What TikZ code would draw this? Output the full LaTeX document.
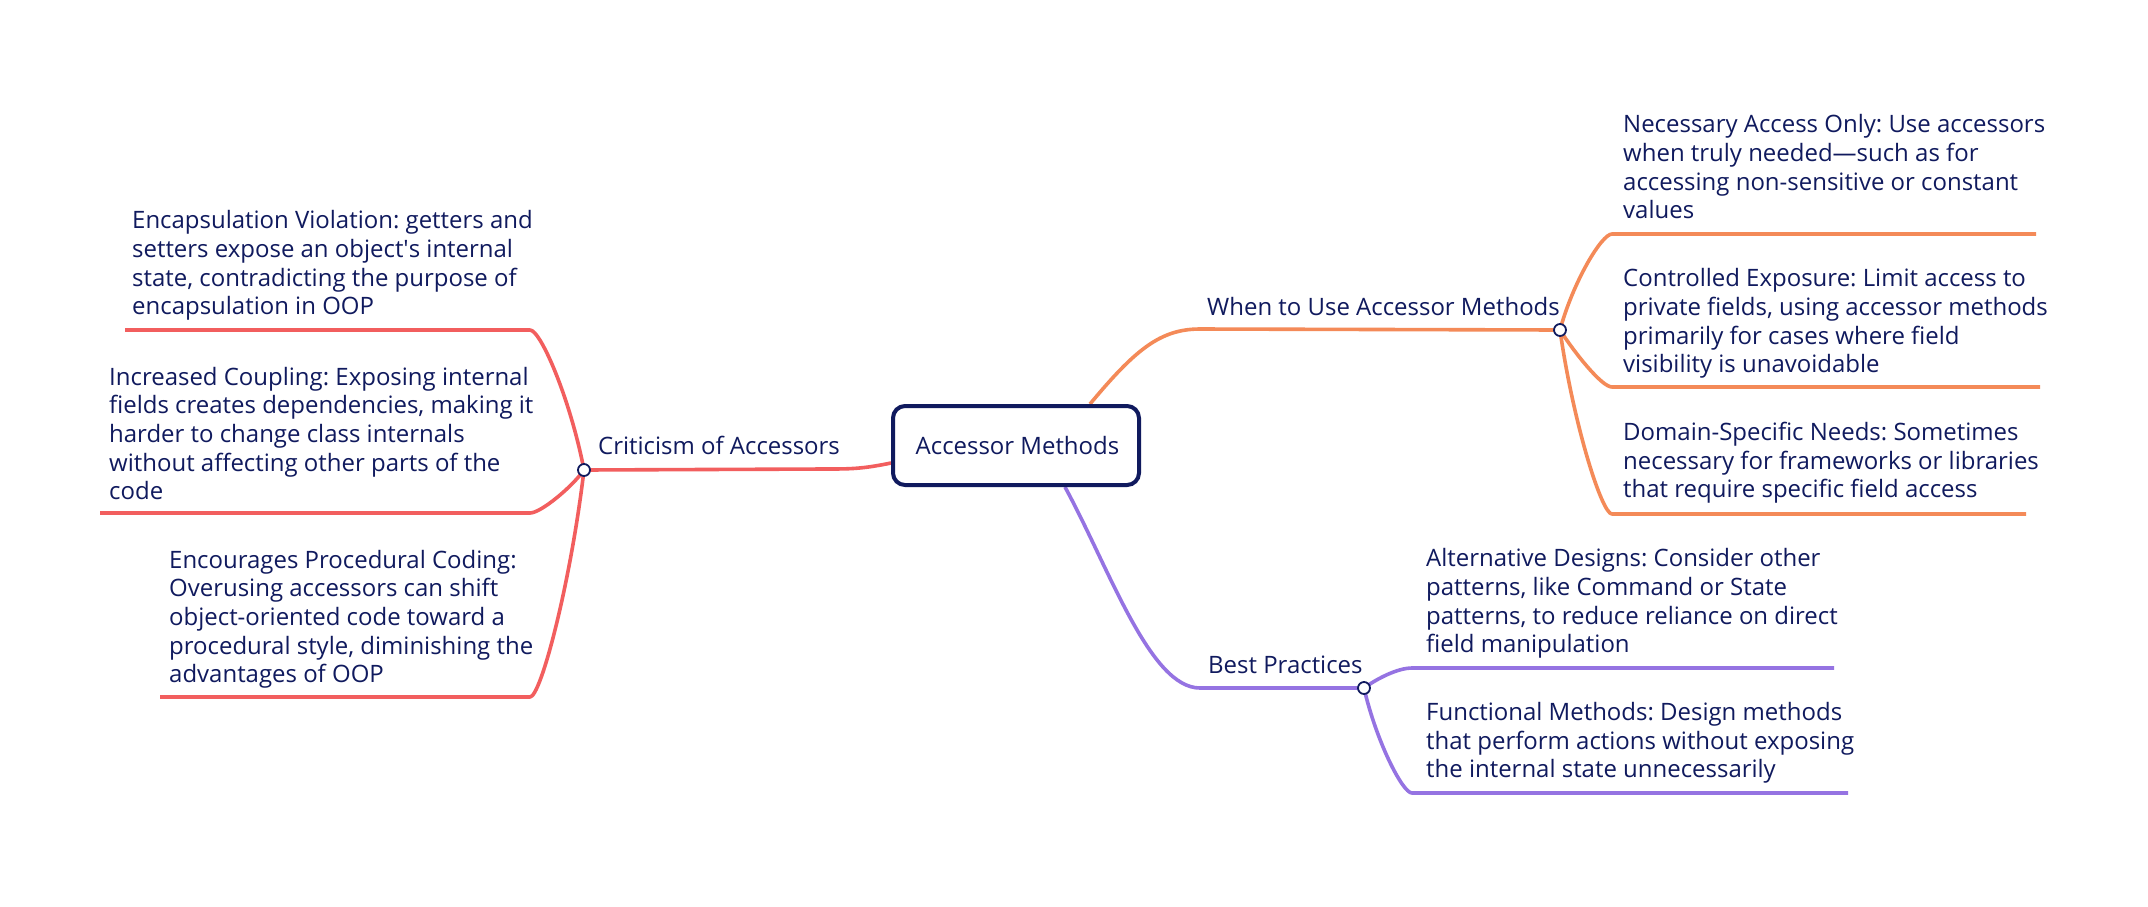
\documentclass[tikz,border=0pt]{standalone}
\usepackage{fontspec}
\setmainfont{Open Sans}
\usetikzlibrary{backgrounds}
\definecolor{navy}{HTML}{101A5E}
\definecolor{cred}{HTML}{F25E5E}
\definecolor{corange}{HTML}{F48A58}
\definecolor{cpurple}{HTML}{9573E2}
\newlength\refw
\frenchspacing
\begin{document}
\frenchspacing
\settowidth\refw{\normalfont\fontsize{10pt}{12pt}\selectfont Necessary Access Only: Use accessors}%
\pgfmathsetmacro\fsz{10*422/\refw}%
\begin{tikzpicture}[x=1pt,y=-1pt]
\tikzset{
  every node/.style={font=\fontsize{\fsz pt}{28.7pt}\selectfont\frenchspacing, text=navy},
  rootbox/.style={draw=navy, line width=4pt, rounded corners=12pt, fill=white,
    minimum width=246pt, minimum height=79pt, inner sep=0pt},
  lbl/.style={inner sep=0pt, anchor=base west},
  leaf/.style={inner sep=0pt, anchor=south west, align=left},
  jn/.style={circle, draw=navy, fill=white, line width=1.8pt, minimum size=12pt, inner sep=0pt},
  conn/.style={line width=3.6pt, line join=round},
  redl/.style={conn, draw=cred},
  orangel/.style={conn, draw=corange},
  purplel/.style={conn, draw=cpurple}
}
\useasboundingbox (0,0) rectangle (2148,906);

% central node
\node[rootbox] (root) at (1016,445.5) {\hspace*{3pt}Accessor Methods};

% branch labels
\node[lbl] (crit) at (598,454) {Criticism of Accessors};
\node[lbl] (when) at (1207,315) {When to Use Accessor Methods};
\node[lbl] (best) at (1208,673) {Best Practices};

% junctions
\node[jn] (j1) at (584,470) {};
\node[jn] (j2) at (1560,330) {};
\node[jn] (j3) at (1364,688) {};

% leaves (left)
\node[leaf] (l1) at (132,323.6) {Encapsulation Violation: getters and\\setters expose an object\textquotesingle s internal\\state, contradicting the purpose of\\encapsulation in OOP\strut};
\node[leaf] (l2) at (109,508.6) {Increased Coupling: Exposing internal\\fields creates dependencies, making it\\harder to change class internals\\without affecting other parts of the\\code\strut};
\node[leaf] (l3) at (169,691.6) {Encourages Procedural Coding:\\Overusing accessors can shift\\object-oriented code toward a\\procedural style, diminishing the\\advantages of OOP\strut};

% leaves (right, orange)
\node[leaf] (r1) at (1623,227.6) {Necessary Access Only: Use accessors\\when truly needed—such as for\\accessing non-sensitive or constant\\values\strut};
\node[leaf] (r2) at (1623,381.6) {Controlled Exposure: Limit access to\\private fields, using accessor methods\\primarily for cases where field\\visibility is unavoidable\strut};
\node[leaf] (r3) at (1623,506.6) {Domain-Specific Needs: Sometimes\\necessary for frameworks or libraries\\that require specific field access\strut};

% leaves (right, purple)
\node[leaf] (p1) at (1426,661.6) {Alternative Designs: Consider other\\patterns, like Command or State\\patterns, to reduce reliance on direct\\field manipulation\strut};
\node[leaf] (p2) at (1426,786.6) {Functional Methods: Design methods\\that perform actions without exposing\\the internal state unnecessarily\strut};

% underline end points
\coordinate (u1) at (125,330);
\coordinate (u2) at (100,513);
\coordinate (u3) at (160,697);
\coordinate (v1) at (2036,234);
\coordinate (v2) at (2040,387);
\coordinate (v3) at (2026,514);
\coordinate (w1) at (1834,668);
\coordinate (w2) at (1848,793);

\begin{scope}[on background layer]
\fill[white] (0,0) rectangle (2148,906);
% main branches
\draw[redl] ([yshift=-17.5pt]root.west) .. controls (862,469) and (850,469) .. (825,469) -- (j1.center);
\draw[orangel] ([xshift=-51pt]root.north east) .. controls (1135,350) and (1160,329) .. (1200,329) -- (j2.center);
\draw[purplel] ([xshift=-76pt]root.south east) .. controls (1110,570) and (1150,688) .. (1200,688) -- (j3.center);
% red leaves
\draw[redl] (j1.center) .. controls (570.5,400) and (540.8,330) .. (530,330) -- (u1);
\draw[redl] (j1.center) .. controls (572,487) and (540.8,513) .. (530,513) -- (u2);
\draw[redl] (j1.center) .. controls (570.5,583.5) and (540.8,697) .. (530,697) -- (u3);
% orange leaves
\draw[orangel] (j2.center) .. controls (1573,282) and (1601.6,234) .. (1612,234) -- (v1);
\draw[orangel] (j2.center) .. controls (1574,352) and (1601.6,387) .. (1612,387) -- (v2);
\draw[orangel] (j2.center) .. controls (1573,422) and (1601.6,514) .. (1612,514) -- (v3);
% purple leaves
\draw[purplel] (j3.center) .. controls (1378,678) and (1398,668) .. (1412,668) -- (w1);
\draw[purplel] (j3.center) .. controls (1376,740.5) and (1402.4,793) .. (1412,793) -- (w2);
\end{scope}
\end{tikzpicture}
\end{document}
